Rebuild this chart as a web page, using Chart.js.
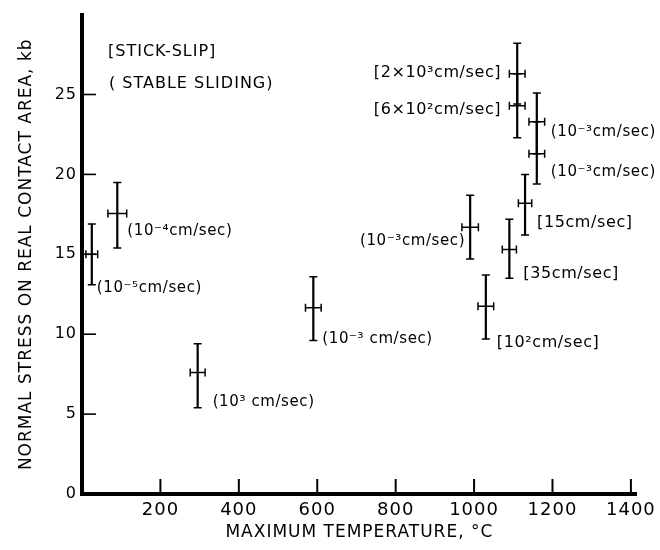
<!DOCTYPE html>
<html><head><meta charset="utf-8">
<script src="https://cdn.jsdelivr.net/npm/chart.js@4/dist/chart.umd.min.js"></script>
<style>html,body{margin:0;padding:0;background:#fff}#wrap{width:660px;height:550px}</style>
</head><body><div id="wrap"><canvas id="c"></canvas></div>
<script>
// ---- data ----
const temps      = [25, 90, 295, 590, 990, 1110, 1110, 1160, 1160, 1130, 1090, 1030];
const stress     = [15.0, 17.55, 7.6, 11.65, 16.7, 26.3, 24.3, 23.3, 21.3, 18.2, 15.3, 11.75];
const stressLow  = [13.1, 15.4, 5.4, 9.6, 14.7, 24.4, 22.3, 21.3, 19.4, 16.2, 13.5, 9.7];
const stressHigh = [16.9, 19.5, 9.4, 13.6, 18.7, 28.2, 26.3, 25.1, 23.3, 20.0, 17.2, 13.7];
const tempErr    = [15, 24, 19, 20, 21, 20, 20, 20, 20, 17, 18, 20];
const rateLabels = ["(10⁻⁵cm/sec)", "(10⁻⁴cm/sec)", "(10³ cm/sec)", "(10⁻³ cm/sec)", "(10⁻³cm/sec)",
                    "[2×10³cm/sec]", "[6×10²cm/sec]", "(10⁻³cm/sec)", "(10⁻³cm/sec)",
                    "[15cm/sec]", "[35cm/sec]", "[10²cm/sec]"];
const xTickValues = [200, 400, 600, 800, 1000, 1200, 1400];
const yTickValues = [0, 5, 10, 15, 20, 25];
const legendNotes = ["[STICK-SLIP]", "( STABLE SLIDING)"];
const xTitle = "MAXIMUM TEMPERATURE, °C";
const yTitle = "NORMAL STRESS ON REAL CONTACT AREA, kb";

// ---- layout (pixel offsets of labels from their point) ----
const labelOffsets = [[5,34,'left'],[10,18,'left'],[15,30,'left'],[9,31,'left'],[-5,14,'right'],
                      [-16,-1,'right'],[-16,4,'right'],[14,10,'left'],[14,18,'left'],
                      [12,20,'left'],[14,24,'left'],[11,37,'left']];
const notePos = [[26, 37], [27, 69]];
const FONT = '"DejaVu Sans", sans-serif';
const INK = '#000';

const annot = {
  id: 'annot',
  beforeDraw(chart) { chart.ctx.letterSpacing = '1px'; },
  afterDatasetsDraw(chart) {
    const {ctx, scales: {x, y}, chartArea: a} = chart;
    ctx.save();
    ctx.strokeStyle = INK; ctx.fillStyle = INK;
    // inward tick marks
    ctx.lineWidth = 1.6;
    yTickValues.forEach(v => { if (v === 0) return; const py = y.getPixelForValue(v);
      ctx.beginPath(); ctx.moveTo(a.left, py); ctx.lineTo(a.left + 14, py); ctx.stroke(); });
    ctx.lineWidth = 2;
    xTickValues.forEach(v => { const px = x.getPixelForValue(v);
      ctx.beginPath(); ctx.moveTo(px, a.bottom); ctx.lineTo(px, a.bottom - 15); ctx.stroke(); });
    // error bars
    temps.forEach((t, i) => {
      const px = x.getPixelForValue(t), py = y.getPixelForValue(stress[i]);
      const yl = y.getPixelForValue(stressLow[i]), yh = y.getPixelForValue(stressHigh[i]);
      const xl = x.getPixelForValue(t - tempErr[i]), xh = x.getPixelForValue(t + tempErr[i]);
      ctx.lineWidth = 2.2;
      ctx.beginPath(); ctx.moveTo(px, yl); ctx.lineTo(px, yh); ctx.stroke();
      ctx.lineWidth = 1.5;
      ctx.beginPath();
      ctx.moveTo(px - 4, yl); ctx.lineTo(px + 4, yl);
      ctx.moveTo(px - 4, yh); ctx.lineTo(px + 4, yh);
      ctx.moveTo(xl, py); ctx.lineTo(xh, py);
      ctx.moveTo(xl, py - 4); ctx.lineTo(xl, py + 4);
      ctx.moveTo(xh, py - 4); ctx.lineTo(xh, py + 4);
      ctx.stroke();
      const [dx, dy, al] = labelOffsets[i];
      const bracket = rateLabels[i].startsWith('[');
      ctx.letterSpacing = '0.6px';
      ctx.font = (bracket ? '16px ' : '15px ') + FONT; ctx.textAlign = al; ctx.textBaseline = 'middle';
      ctx.fillText(rateLabels[i], px + dx, py + dy);
    });
    ctx.font = '16px ' + FONT; ctx.textAlign = 'left'; ctx.textBaseline = 'middle';
    ctx.letterSpacing = '1px';
    legendNotes.forEach((s, i) => ctx.fillText(s, a.left + notePos[i][0], a.top + notePos[i][1]));
    ctx.restore();
  },
  afterDraw(chart) { chart.ctx.letterSpacing = '0px'; }
};

new Chart(document.getElementById('c'), {
  type: 'scatter',
  data: { datasets: [{ data: temps.map((t, i) => ({x: t, y: stress[i]})), pointRadius: 0, showLine: false }] },
  options: {
    responsive: true, maintainAspectRatio: false, animation: false,
    layout: { padding: { top: 11, right: 18, left: 0, bottom: 0 } },
    plugins: { legend: { display: false }, tooltip: { enabled: false } },
    scales: {
      x: {
        type: 'linear', min: 0, max: 1415,
        afterBuildTicks: s => { s.ticks = xTickValues.map(v => ({value: v})); },
        afterFit: s => { s.height = 56; },
        grid: { display: false, drawTicks: false, tickLength: 0 },
        border: { display: true, width: 4, color: '#000' },
        ticks: { font: { family: FONT, size: 18 }, color: INK, padding: 6, maxRotation: 0, callback: v => String(v) },
        title: { display: true, text: xTitle, color: INK, font: { family: FONT, size: 17 }, padding: { bottom: 7 } }
      },
      y: {
        type: 'linear', min: 0, max: 30,
        afterBuildTicks: s => { s.ticks = yTickValues.map(v => ({value: v})); },
        afterFit: s => { s.width = 82; },
        grid: { display: false, drawTicks: false, tickLength: 0 },
        border: { display: true, width: 4, color: '#000' },
        ticks: { font: { family: FONT, size: 16 }, color: INK, padding: 5, callback: v => String(v) },
        title: { display: true, text: yTitle, color: INK, font: { family: FONT, size: 17 }, padding: { top: 16 } }
      }
    }
  },
  plugins: [annot]
});
</script></body></html>
